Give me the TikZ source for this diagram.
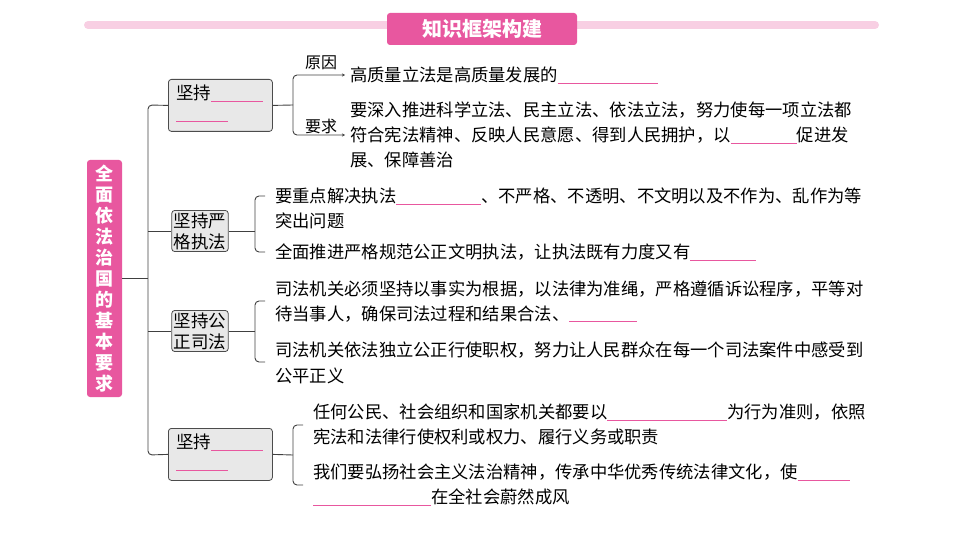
\documentclass[tikz,border=0pt]{standalone}
\usepackage{fontspec}
\setmainfont{Noto Sans CJK SC}
\usetikzlibrary{arrows.meta}
\definecolor{pk}{HTML}{E8579F}
\definecolor{lpk}{HTML}{F8CFE3}
\definecolor{bx}{HTML}{E8E8E8}
\newcommand{\blk}[1]{\textcolor{pk}{\rule[-2pt]{#1pt}{0.8pt}}}
\begin{document}
\begin{tikzpicture}[x=1pt,y=-1pt,
  ln/.style={draw=black!75,line width=0.9pt,rounded corners=4pt},
  box/.style={draw=black!70,fill=bx,rounded corners=3pt,line width=0.8pt,inner sep=2pt,font=\fontsize{17.5}{18}\selectfont},
  tx/.style={anchor=west,inner sep=0,font=\fontsize{17.3}{18}\selectfont},
  arr/.style={ln,-{Stealth[length=3pt,width=3pt]}}]
\useasboundingbox (0,0) rectangle (960,540);
\draw[lpk,line width=8pt,line cap=round] (88,25) -- (875,25);
\node[fill=pk,rounded corners=3pt,minimum width=190,minimum height=32,text=white,font=\bfseries\fontsize{20}{20}\selectfont] (title) at (482,29) {知识框架构建};
\node[fill=pk,rounded corners=3pt,minimum width=35,minimum height=237,text=white,align=center,font=\bfseries\fontsize{18}{21}\selectfont] (main) at (104.5,278.5) {全\\面\\依\\法\\治\\国\\的\\基\\本\\要\\求};
% boxes
\node[box,minimum width=104,minimum height=52,anchor=north west] (b1) at (168,79) {};
\node[anchor=west,inner sep=0,font=\fontsize{17.5}{18}\selectfont] (b1a) at (176,93) {坚持\blk{52}};
\node[anchor=west,inner sep=0] (b1b) at (176,121) {\blk{52}};
\node[box,minimum width=104,minimum height=52,anchor=north west] (b4) at (168,428) {};
\node[anchor=west,inner sep=0,font=\fontsize{17.5}{18}\selectfont] (b4a) at (176,442) {坚持\blk{52}};
\node[anchor=west,inner sep=0] (b4b) at (176,470) {\blk{52}};
\node[box,align=center,font=\fontsize{17.5}{21}\selectfont] (b2) at (200,231) {坚持严\\格执法};
\node[box,align=center,font=\fontsize{17.5}{21}\selectfont] (b3) at (200,331) {坚持公\\正司法};
% trunk
\coordinate (t) at (148,278.5);
\draw[ln,rounded corners=0] (main.east) -- (t);
\draw[ln] (b1.west) -- (148,105) -- (148,455) -- (b4.west);
\draw[ln] (148,231) -- (b2.west);
\draw[ln] (148,331) -- (b3.west);
% box1 branch
\coordinate (j1) at (293,105);
\draw[ln] (b1.east) -- (j1);
\coordinate (r1) at (345,75); \coordinate (r2) at (345,135);
\draw[arr] (j1) -- (293,75) -- (r1);
\draw[arr] (j1) -- (293,135) -- (r2);
\node[font=\fontsize{16}{16}\selectfont] (l1) at (321,63) {原因};
\node[font=\fontsize{16}{16}\selectfont] (l2) at (321,126) {要求};
\node[tx] (p1) at (350,75) {高质量立法是高质量发展的\blk{100}};
\node[tx] (p2) at (350,110) {要深入推进科学立法、民主立法、依法立法，努力使每一项立法都};
\node[tx] (p3) at (350,135) {符合宪法精神、反映人民意愿、得到人民拥护，以\blk{66}促进发};
\node[tx] (p4) at (350,160) {展、保障善治};
% box2 branch
\draw[ln] (b2.east) -- (255,231);
\draw[ln] (265,196) -- (255,196) -- (255,252) -- (265,252);
\node[tx] (q1) at (275,196) {要重点解决执法\blk{85}、不严格、不透明、不文明以及不作为、乱作为等};
\node[tx] (q2) at (275,221) {突出问题};
\node[tx] (q3) at (275,252) {全面推进严格规范公正文明执法，让执法既有力度又有\blk{66}};
% box3 branch
\draw[ln] (b3.east) -- (255,331);
\draw[ln] (265,301) -- (255,301) -- (255,362) -- (265,362);
\node[tx] (s1) at (275,289) {司法机关必须坚持以事实为根据，以法律为准绳，严格遵循诉讼程序，平等对};
\node[tx] (s2) at (275,314) {待当事人，确保司法过程和结果合法、\blk{68}};
\node[tx] (s3) at (275,350) {司法机关依法独立公正行使职权，努力让人民群众在每一个司法案件中感受到};
\node[tx] (s4) at (275,376) {公平正义};
% box4 branch
\draw[ln] (b4.east) -- (293,455);
\draw[ln] (303,425) -- (293,425) -- (293,485) -- (303,485);
\node[tx] (u1) at (313,412) {任何公民、社会组织和国家机关都要以\blk{120}为行为准则，依照};
\node[tx] (u2) at (313,437) {宪法和法律行使权利或权力、履行义务或职责};
\node[tx] (u3) at (313,472) {我们要弘扬社会主义法治精神，传承中华优秀传统法律文化，使\blk{52}};
\node[tx] (u4) at (313,497) {\blk{118}在全社会蔚然成风};
\end{tikzpicture}
\end{document}
